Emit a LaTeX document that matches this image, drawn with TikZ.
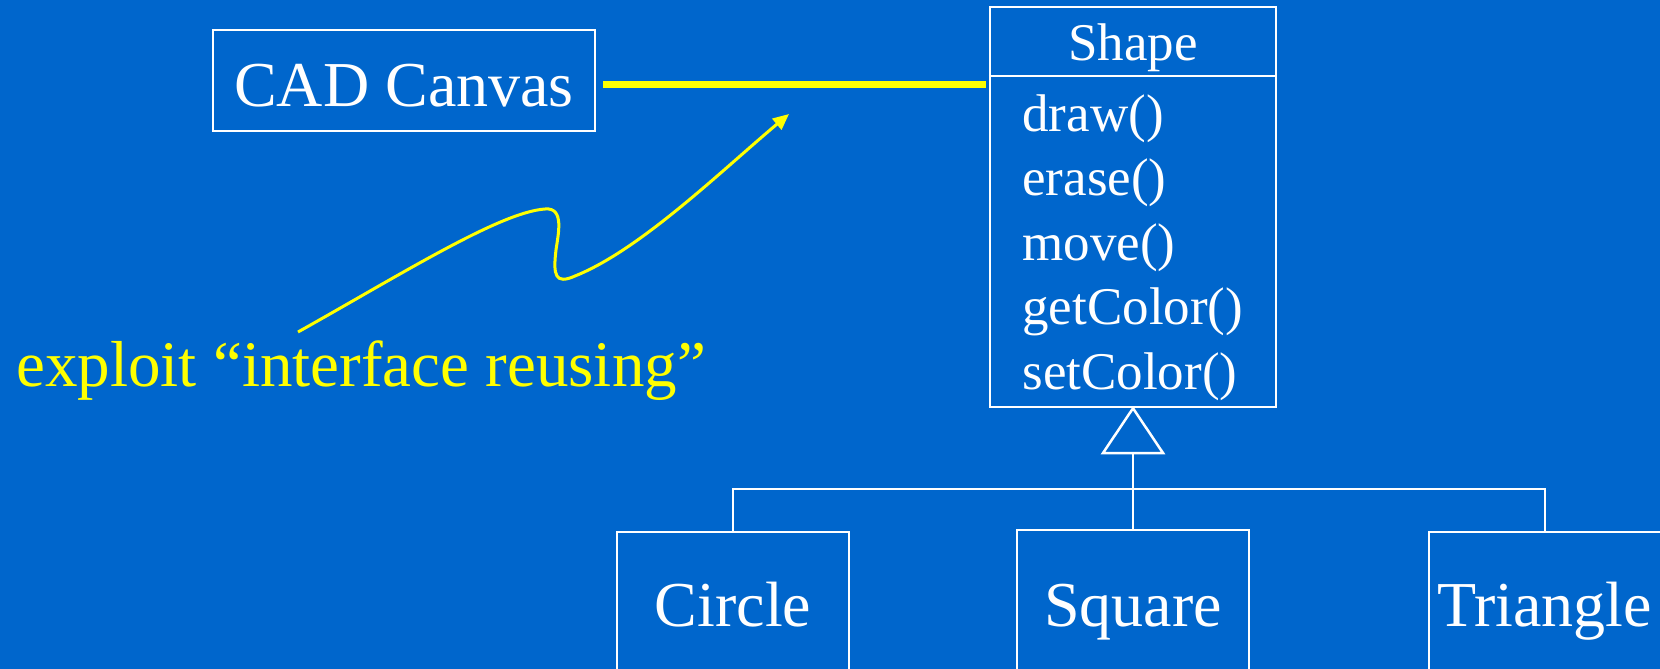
\documentclass[tikz,border=0pt]{standalone}
\usepackage{fontspec}
\setmainfont{Liberation Serif}
\usetikzlibrary{arrows.meta}
\definecolor{bgblue}{HTML}{0066CC}
\definecolor{hiyel}{HTML}{FFFF00}
\begin{document}
\begin{tikzpicture}[x=0.5pt,y=-0.5pt,
  umlbox/.style={draw=white, line width=1.25pt, inner sep=0pt, fill=none},
  bigtxt/.style={text=white, inner sep=0pt, font=\fontsize{32}{36}\selectfont},
  midtxt/.style={text=white, inner sep=0pt, font=\fontsize{26.5}{30}\selectfont},
  conn/.style={draw=white, line width=1.25pt},
  note/.style={text=hiyel, inner sep=0pt, font=\fontsize{32.5}{36}\selectfont}]
\useasboundingbox (0,0) rectangle (1660,669);
\clip (0,0) rectangle (1660,669);
\fill[bgblue] (0,0) rectangle (1660,669);

% CAD Canvas
\node[umlbox, minimum width=191pt, minimum height=50.5pt] (cad) at (404,80.5) {};
\node[bigtxt, anchor=base] (cadt) at (404,106) {CAD Canvas};

% Shape class box
\node[umlbox, minimum width=143pt, minimum height=200pt] (shape) at (1133,207) {};
\draw[conn] (shape.west |- 0,76) -- (shape.east |- 0,76);
\node[midtxt, anchor=base] (shapet) at (1133,61) {Shape};
\node[midtxt, anchor=base west] (m1) at (1022,131) {draw()};
\node[midtxt, anchor=base west] (m2) at (1022,195.5) {erase()};
\node[midtxt, anchor=base west] (m3) at (1022,260) {move()};
\node[midtxt, anchor=base west] (m4) at (1022,324.5) {getColor()};
\node[midtxt, anchor=base west] (m5) at (1022,389) {setColor()};

% subclasses
\node[umlbox, minimum width=116pt, minimum height=84pt] (circ) at (733,616) {};
\node[bigtxt, anchor=base] (circt) at (733,626) {Circle};
\node[umlbox, minimum width=116pt, minimum height=84pt] (squ) at (1133,614) {};
\node[bigtxt, anchor=base] (squt) at (1133,626) {Square};
\node[umlbox, minimum width=116pt, minimum height=84pt] (tri) at (1545,616) {};
\node[bigtxt, anchor=base west] (trit) at (1437,626) {Triangle};

% inheritance
\coordinate (tribase) at (1133,453);
\coordinate (junc) at (1133,489);
\draw[conn, line join=miter] (shape.south) -- (1103,453) -- (1163,453) -- cycle;
\draw[conn] (tribase) -- (squ.north);
\draw[conn] (circ.north) |- (junc) -| (tri.north);

% association
\coordinate (ya) at (603,84);
\coordinate (yb) at (986,84);
\draw[hiyel, line width=3.5pt] (ya) -- (yb);

% note and squiggle arrow
\node[note, anchor=base west] (exploit) at (16,386) {exploit “interface reusing”};
\coordinate (sq0) at (298,332);
\coordinate (sqtip) at (789,114);
\draw[hiyel, line width=1.5pt, -{Triangle[length=8pt,width=7pt]}]
  (sq0) .. controls (400,275) and (500,212) .. (545,209)
  .. controls (565,207) and (558,235) .. (556,250)
  .. controls (553,275) and (555,285) .. (575,276)
  .. controls (640,250) and (720,172) .. (sqtip);
\end{tikzpicture}
\end{document}
